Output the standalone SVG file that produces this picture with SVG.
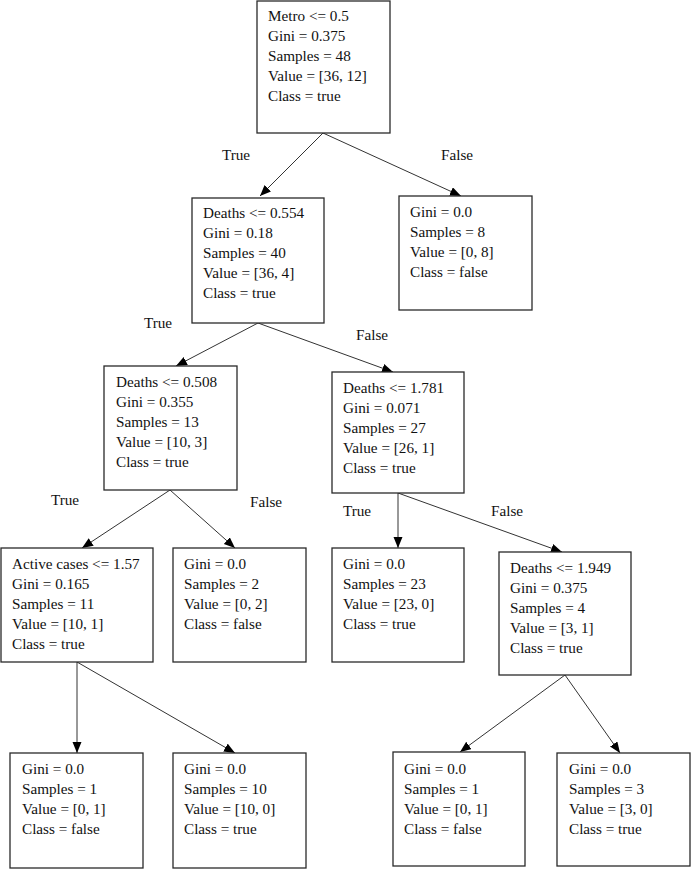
<svg xmlns="http://www.w3.org/2000/svg" width="691" height="869" viewBox="0 0 691 869">
<style>
.box{fill:#fff;stroke:#2a2a2a;stroke-width:1.3}
text{font-family:"Liberation Serif","Times New Roman",serif;font-size:15.2px;fill:#111}
.lbl{text-anchor:middle}
.edge{stroke:#333;stroke-width:1;fill:none;marker-end:url(#arr)}
</style>
<defs>
<marker id="arr" markerUnits="userSpaceOnUse" markerWidth="12" markerHeight="10" refX="11" refY="4.5" orient="auto">
<path d="M0,0 L11,4.5 L0,9 z" fill="#000"/>
</marker>
</defs>
<rect width="691" height="869" fill="#fff"/>
<g id="connectors">
<line class="edge" x1="323" y1="133" x2="260" y2="196"/>
<line class="edge" x1="323" y1="133" x2="461" y2="196"/>
<line class="edge" x1="258" y1="323" x2="176" y2="366"/>
<line class="edge" x1="258" y1="323" x2="393" y2="372"/>
<line class="edge" x1="170" y1="490" x2="82" y2="548"/>
<line class="edge" x1="170" y1="490" x2="235" y2="548"/>
<line class="edge" x1="398" y1="493" x2="398" y2="548"/>
<line class="edge" x1="398" y1="493" x2="562" y2="552"/>
<line class="edge" x1="77" y1="662" x2="77" y2="753"/>
<line class="edge" x1="77" y1="662" x2="235" y2="753"/>
<line class="edge" x1="565" y1="675" x2="460" y2="752"/>
<line class="edge" x1="565" y1="675" x2="620" y2="753"/>
<text class="lbl" x="236" y="160">True</text>
<text class="lbl" x="457" y="160">False</text>
<text class="lbl" x="158" y="328">True</text>
<text class="lbl" x="372" y="340">False</text>
<text class="lbl" x="65" y="505">True</text>
<text class="lbl" x="266" y="507">False</text>
<text class="lbl" x="357" y="516">True</text>
<text class="lbl" x="507" y="516">False</text>
</g>
<g id="n0">
<rect class="box" x="257" y="1" width="133" height="132"/>
<text x="268" y="21">Metro &lt;= 0.5</text>
<text x="268" y="41">Gini = 0.375</text>
<text x="268" y="61">Samples = 48</text>
<text x="268" y="81">Value = [36, 12]</text>
<text x="268" y="101">Class = true</text>
</g>
<g id="n1">
<rect class="box" x="192" y="198" width="132" height="125"/>
<text x="203" y="218">Deaths &lt;= 0.554</text>
<text x="203" y="238">Gini = 0.18</text>
<text x="203" y="258">Samples = 40</text>
<text x="203" y="278">Value = [36, 4]</text>
<text x="203" y="298">Class = true</text>
</g>
<g id="n2">
<rect class="box" x="399" y="196" width="133" height="114"/>
<text x="410" y="217">Gini = 0.0</text>
<text x="410" y="237">Samples = 8</text>
<text x="410" y="257">Value = [0, 8]</text>
<text x="410" y="277">Class = false</text>
</g>
<g id="n3">
<rect class="box" x="104" y="366" width="133" height="124"/>
<text x="116" y="387">Deaths &lt;= 0.508</text>
<text x="116" y="407">Gini = 0.355</text>
<text x="116" y="427">Samples = 13</text>
<text x="116" y="447">Value = [10, 3]</text>
<text x="116" y="467">Class = true</text>
</g>
<g id="n4">
<rect class="box" x="332" y="372" width="132" height="121"/>
<text x="343" y="393">Deaths &lt;= 1.781</text>
<text x="343" y="413">Gini = 0.071</text>
<text x="343" y="433">Samples = 27</text>
<text x="343" y="453">Value = [26, 1]</text>
<text x="343" y="473">Class = true</text>
</g>
<g id="n5">
<rect class="box" x="1" y="548" width="152" height="114"/>
<text x="12" y="569">Active cases &lt;= 1.57</text>
<text x="12" y="589">Gini = 0.165</text>
<text x="12" y="609">Samples = 11</text>
<text x="12" y="629">Value = [10, 1]</text>
<text x="12" y="649">Class = true</text>
</g>
<g id="n6">
<rect class="box" x="173" y="548" width="133" height="114"/>
<text x="184" y="569">Gini = 0.0</text>
<text x="184" y="589">Samples = 2</text>
<text x="184" y="609">Value = [0, 2]</text>
<text x="184" y="629">Class = false</text>
</g>
<g id="n7">
<rect class="box" x="332" y="548" width="132" height="114"/>
<text x="343" y="569">Gini = 0.0</text>
<text x="343" y="589">Samples = 23</text>
<text x="343" y="609">Value = [23, 0]</text>
<text x="343" y="629">Class = true</text>
</g>
<g id="n8">
<rect class="box" x="499" y="552" width="132" height="123"/>
<text x="510" y="573">Deaths &lt;= 1.949</text>
<text x="510" y="593">Gini = 0.375</text>
<text x="510" y="613">Samples = 4</text>
<text x="510" y="633">Value = [3, 1]</text>
<text x="510" y="653">Class = true</text>
</g>
<g id="n9">
<rect class="box" x="10" y="753" width="133" height="115"/>
<text x="22" y="774">Gini = 0.0</text>
<text x="22" y="794">Samples = 1</text>
<text x="22" y="814">Value = [0, 1]</text>
<text x="22" y="834">Class = false</text>
</g>
<g id="n10">
<rect class="box" x="173" y="753" width="133" height="115"/>
<text x="184" y="774">Gini = 0.0</text>
<text x="184" y="794">Samples = 10</text>
<text x="184" y="814">Value = [10, 0]</text>
<text x="184" y="834">Class = true</text>
</g>
<g id="n11">
<rect class="box" x="393" y="752" width="132" height="114"/>
<text x="404" y="774">Gini = 0.0</text>
<text x="404" y="794">Samples = 1</text>
<text x="404" y="814">Value = [0, 1]</text>
<text x="404" y="834">Class = false</text>
</g>
<g id="n12">
<rect class="box" x="557" y="753" width="133" height="113"/>
<text x="569" y="774">Gini = 0.0</text>
<text x="569" y="794">Samples = 3</text>
<text x="569" y="814">Value = [3, 0]</text>
<text x="569" y="834">Class = true</text>
</g>
</svg>
